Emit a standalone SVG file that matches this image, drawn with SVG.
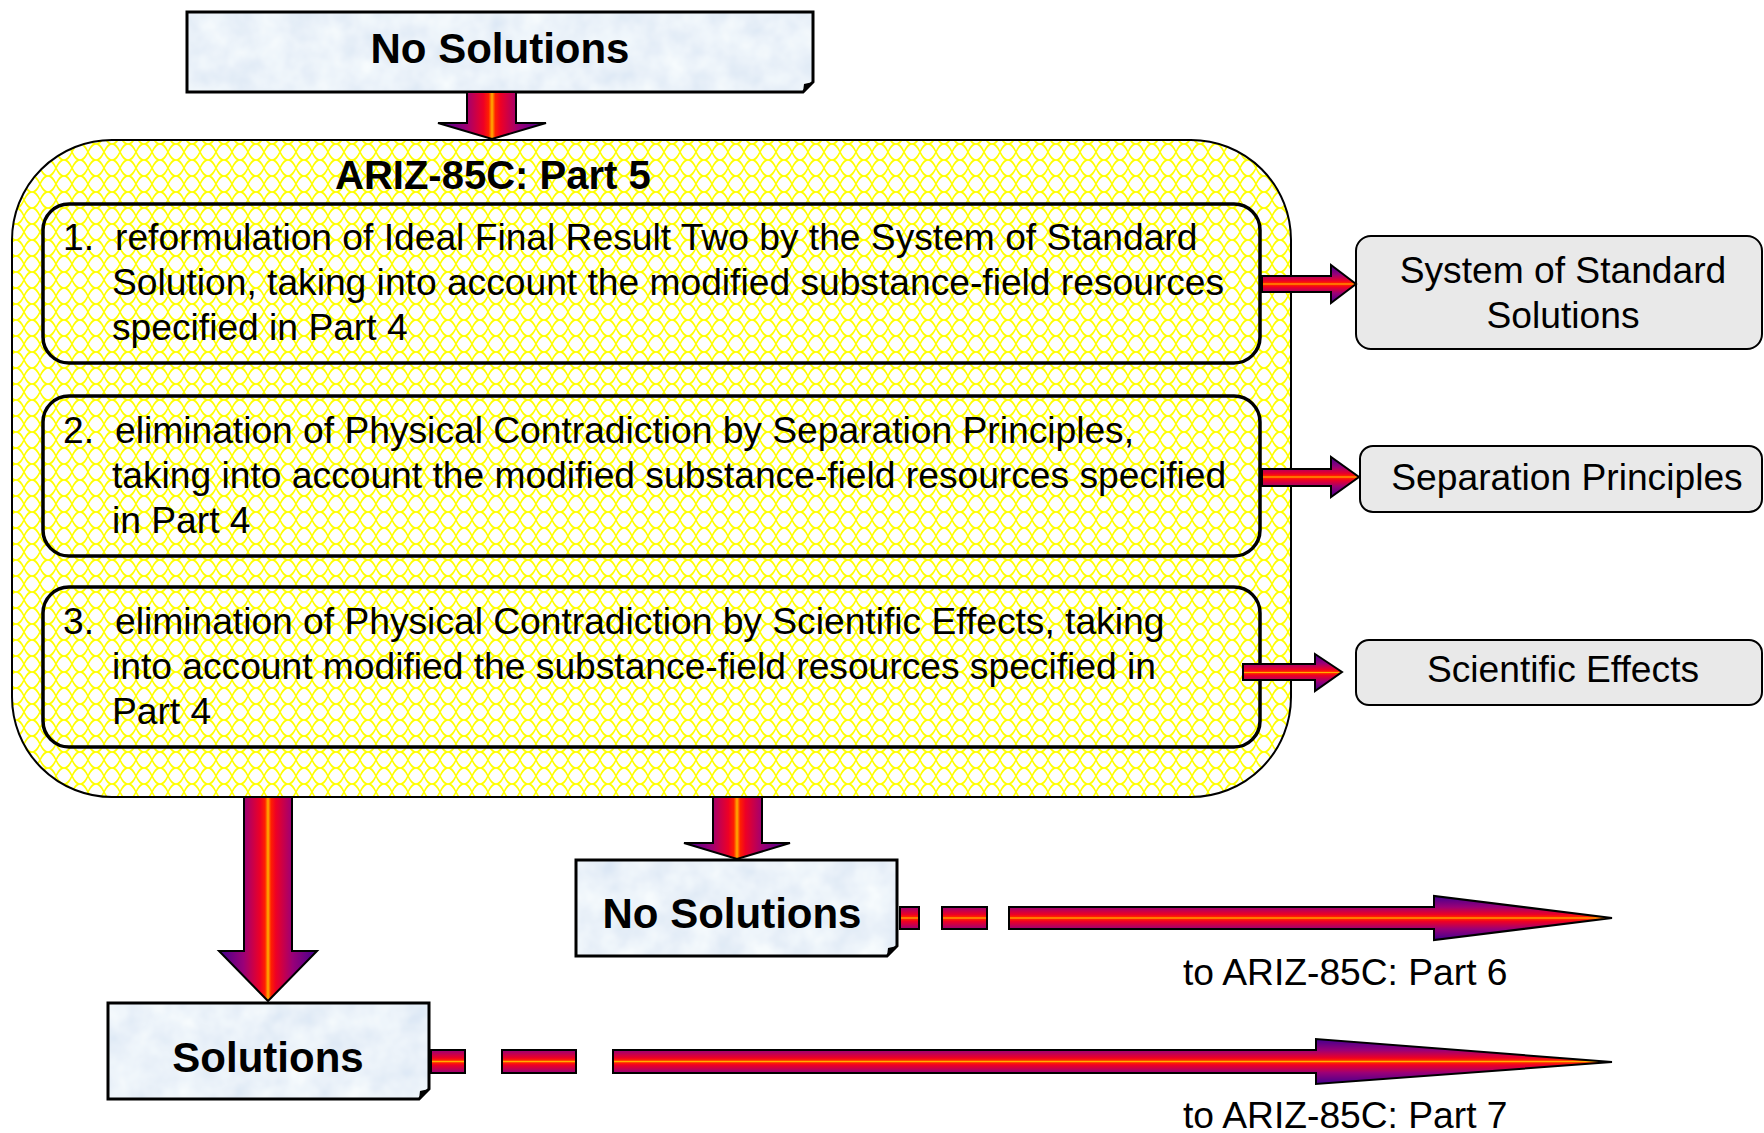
<svg xmlns="http://www.w3.org/2000/svg" width="1764" height="1133" viewBox="0 0 1764 1133">
<style>
  text { font-family: "Liberation Sans", Arial, sans-serif; fill: #000; }
  .body { font-size: 37.2px; }
  .bold { font-size: 42px; font-weight: bold; }
  .title { font-size: 40px; font-weight: bold; }
  .inner { fill: none; stroke: #000; stroke-width: 3.5; }
  .side { fill: #e9e9e9; stroke: #000; stroke-width: 2; }
  .note { stroke: #000; stroke-width: 3; fill: none; }
  .harrow { fill: url(#gradV); stroke: #000; stroke-width: 2; stroke-linejoin: miter; }
  .varrow { fill: url(#gradH); stroke: #000; stroke-width: 2; stroke-linejoin: miter; }
</style>
<defs>
  <pattern id="yel" x="0" y="0" width="16" height="16" patternUnits="userSpaceOnUse">
    <rect width="16" height="16" fill="#ffffff"/>
    <path d="M0,0 C8,0 8,16 16,16 M16,0 C8,0 8,16 0,16" fill="none" stroke="#ffff00" stroke-width="1.6"/>
  </pattern>
  <linearGradient id="gradV" x1="0" y1="0" x2="0" y2="1">
    <stop offset="0" stop-color="#400090"/>
    <stop offset="0.25" stop-color="#9a0078"/>
    <stop offset="0.42" stop-color="#ee0025"/>
    <stop offset="0.47" stop-color="#ff2000"/>
    <stop offset="0.5" stop-color="#ffb000"/>
    <stop offset="0.53" stop-color="#ff2000"/>
    <stop offset="0.58" stop-color="#ee0025"/>
    <stop offset="0.75" stop-color="#9a0078"/>
    <stop offset="1" stop-color="#400090"/>
  </linearGradient>
  <linearGradient id="gradH" x1="0" y1="0" x2="1" y2="0">
    <stop offset="0" stop-color="#400090"/>
    <stop offset="0.25" stop-color="#9a0078"/>
    <stop offset="0.42" stop-color="#ee0025"/>
    <stop offset="0.47" stop-color="#ff2000"/>
    <stop offset="0.5" stop-color="#ffb000"/>
    <stop offset="0.53" stop-color="#ff2000"/>
    <stop offset="0.58" stop-color="#ee0025"/>
    <stop offset="0.75" stop-color="#9a0078"/>
    <stop offset="1" stop-color="#400090"/>
  </linearGradient>
  <filter id="mottle" x="0" y="0" width="100%" height="100%">
    <feTurbulence type="fractalNoise" baseFrequency="0.035" numOctaves="3" seed="4" result="n"/>
    <feColorMatrix in="n" type="matrix" values="0.28 0 0 0 0.69  0.22 0 0 0 0.78  0.1 0 0 0 0.90  0 0 0 0 1" result="c"/>
    <feComposite in="c" in2="SourceGraphic" operator="in"/>
  </filter>
</defs>

<g id="container">
  <rect x="12" y="140" width="1279" height="657" rx="100" ry="100" fill="url(#yel)" stroke="#000" stroke-width="2"/>
  <text class="title" x="335" y="189">ARIZ-85C: Part 5</text>
</g>

<g id="step1">
  <rect class="inner" x="43" y="204" width="1217" height="159" rx="26" ry="26"/>
  <text class="body" x="63" y="250">1.</text>
  <text class="body" x="115" y="250">reformulation of Ideal Final Result Two by the System of Standard</text>
  <text class="body" x="112" y="295">Solution, taking into account the modified substance-field resources</text>
  <text class="body" x="112" y="340">specified in Part 4</text>
</g>

<g id="step2">
  <rect class="inner" x="43" y="396" width="1217" height="160" rx="26" ry="26"/>
  <text class="body" x="63" y="443">2.</text>
  <text class="body" x="115" y="443">elimination of Physical Contradiction by Separation Principles,</text>
  <text class="body" x="112" y="488">taking into account the modified substance-field resources specified</text>
  <text class="body" x="112" y="533">in Part 4</text>
</g>

<g id="step3">
  <rect class="inner" x="43" y="587" width="1217" height="160" rx="26" ry="26"/>
  <text class="body" x="63" y="634">3.</text>
  <text class="body" x="115" y="634">elimination of Physical Contradiction by Scientific Effects, taking</text>
  <text class="body" x="112" y="679">into account modified the substance-field resources specified in</text>
  <text class="body" x="112" y="724">Part 4</text>
</g>

<g id="sss">
  <rect class="side" x="1356" y="236" width="406" height="113" rx="15" ry="15"/>
  <text class="body" x="1563" y="283" text-anchor="middle">System of Standard</text>
  <text class="body" x="1563" y="328" text-anchor="middle">Solutions</text>
</g>
<g id="sep">
  <rect class="side" x="1360" y="446" width="402" height="66" rx="13" ry="13"/>
  <text class="body" x="1567" y="490" text-anchor="middle">Separation Principles</text>
</g>
<g id="sci">
  <rect class="side" x="1356" y="640" width="406" height="65" rx="13" ry="13"/>
  <text class="body" x="1563" y="682" text-anchor="middle">Scientific Effects</text>
</g>

<g id="noSolTop">
  <path d="M187,12 H813 V82 L803,92 H187 Z" fill="#dbe8f5" filter="url(#mottle)"/>
  <path class="note" d="M187,12 H813 V82 L803,92 H187 Z"/>
  <path d="M813,82 L803,92 L804,84 Z" fill="#000"/>
  <text class="bold" x="500" y="63" text-anchor="middle">No Solutions</text>
</g>

<g id="noSolMid">
  <path d="M576,860 H897 V946 L887,956 H576 Z" fill="#dbe8f5" filter="url(#mottle)"/>
  <path class="note" d="M576,860 H897 V946 L887,956 H576 Z"/>
  <path d="M897,946 L887,956 L888,948 Z" fill="#000"/>
  <text class="bold" x="732" y="928" text-anchor="middle">No Solutions</text>
</g>

<g id="solutions">
  <path d="M108,1003 H429 V1089 L419,1099 H108 Z" fill="#dbe8f5" filter="url(#mottle)"/>
  <path class="note" d="M108,1003 H429 V1089 L419,1099 H108 Z"/>
  <path d="M429,1089 L419,1099 L420,1091 Z" fill="#000"/>
  <text class="bold" x="268" y="1072" text-anchor="middle">Solutions</text>
</g>

<g id="connectors">
  <path class="varrow" d="M467,92 H516 V123 H546 L492,139 L438,123 H467 Z"/>
  <path class="harrow" d="M1262,276 H1331 V265 L1356,284 L1331,303 V292 H1262 Z"/>
  <path class="harrow" d="M1262,469 H1331 V457 L1359,477 L1331,497 V486 H1262 Z"/>
  <path class="harrow" d="M1243,664 H1315 V654 L1342,672 L1315,691 V680 H1243 Z"/>
  <path class="varrow" d="M244,797 H292 V951 H317 L268,1001 L219,951 H244 Z"/>
  <path class="varrow" d="M713,797 H762 V843 H790 L737,859 L684,843 H713 Z"/>
  <path class="harrow" d="M900,907 H919 V929 H900 Z M942,907 H987 V929 H942 Z M1009,907 H1434 V896 L1612,918 L1434,940 V929 H1009 Z"/>
  <path class="harrow" d="M431,1050 H465 V1073 H431 Z M502,1050 H576 V1073 H502 Z M613,1050 H1316 V1039 L1612,1062 L1316,1084 V1073 H613 Z"/>
  <text class="body" x="1183" y="985">to ARIZ-85C: Part 6</text>
  <text class="body" x="1183" y="1128">to ARIZ-85C: Part 7</text>
</g>
</svg>
